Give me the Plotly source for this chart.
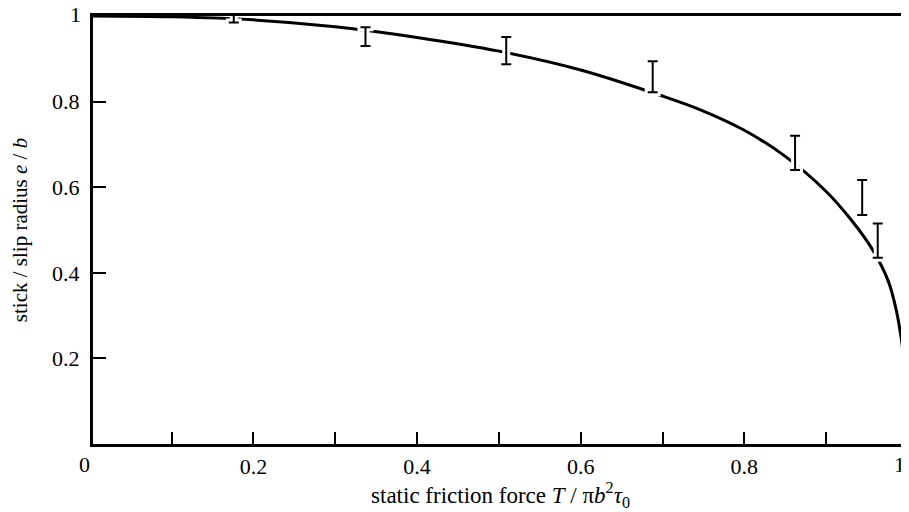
import plotly.graph_objects as go

# curve
curve_x = [0.0, 0.1, 0.2, 0.3, 0.4, 0.5, 0.6, 0.7, 0.75, 0.8, 0.85, 0.9, 0.93,
           0.957, 0.976, 0.986, 0.993, 0.997, 0.999]
curve_y = [1.0, 0.998, 0.991, 0.975, 0.950, 0.918, 0.874, 0.813, 0.778, 0.733, 0.672,
           0.590, 0.525, 0.453, 0.380, 0.310, 0.230, 0.170, 0.125]

# experimental points with error bars
pts_x = [0.176, 0.337, 0.509, 0.688, 0.862, 0.944, 0.963]
pts_y = [0.997, 0.952, 0.919, 0.858, 0.680, 0.576, 0.475]
pts_err = [0.012, 0.022, 0.032, 0.036, 0.040, 0.041, 0.040]

x_tickvals = [0.1, 0.2, 0.3, 0.4, 0.5, 0.6, 0.7, 0.8, 0.9]
x_ticktext = ["", "0.2", "", "0.4", "", "0.6", "", "0.8", ""]
y_tickvals = [0.2, 0.4, 0.6, 0.8]
y_ticktext = ["0.2", "0.4", "0.6", "0.8"]
corner_labels = ["0", "1", "1"]   # x origin, x end, y top

FONT = "Liberation Serif, Times New Roman, serif"

fig = go.Figure()
fig.add_trace(go.Scatter(x=curve_x, y=curve_y, mode="lines",
                         line=dict(color="black", width=3, shape="spline", smoothing=1.0),
                         showlegend=False, hoverinfo="skip"))
fig.add_trace(go.Scatter(x=pts_x, y=pts_y, mode="markers", cliponaxis=False,
                         marker=dict(size=1, opacity=0),
                         error_y=dict(type="data", array=pts_err, visible=True,
                                      color="white", thickness=8, width=8),
                         showlegend=False, hoverinfo="skip"))
fig.add_trace(go.Scatter(x=pts_x, y=pts_y, mode="markers", cliponaxis=False,
                         marker=dict(size=1, opacity=0),
                         error_y=dict(type="data", array=pts_err, visible=True,
                                      color="black", thickness=2, width=5),
                         showlegend=False))

lab_font = dict(family=FONT, size=22, color="black")
fig.add_annotation(text=corner_labels[0], x=0, xref="paper", y=0, yref="paper",
                   xshift=-16, yshift=-20, showarrow=False, font=lab_font, yanchor="middle")
fig.add_annotation(text=corner_labels[1], x=1, xref="paper", y=0, yref="paper",
                   xshift=-1, yshift=-20, showarrow=False, font=lab_font, yanchor="middle")
fig.add_annotation(text=corner_labels[2], x=0, xref="paper", y=1, yref="paper",
                   xshift=-10, yshift=2, showarrow=False, font=lab_font,
                   xanchor="right", yanchor="middle")

fig.update_layout(
    width=901, height=504,
    margin=dict(l=85, r=1, t=8, b=68),
    paper_bgcolor="white", plot_bgcolor="white",
    font=dict(family=FONT, size=22, color="black"),
    xaxis=dict(range=[0.004, 1.0], showgrid=False, zeroline=False,
               showline=True, linecolor="black", linewidth=3, mirror=True,
               ticks="inside", ticklen=12, tickwidth=2, tickcolor="black",
               tickvals=x_tickvals, ticktext=x_ticktext, ticklabelstandoff=1,
               title=dict(text="static friction force <i>T</i> / π<i>b</i><sup>2</sup><i>τ</i><sub>0</sub>",
                          font=dict(family=FONT, size=23), standoff=8)),
    yaxis=dict(range=[0, 1.0], showgrid=False, zeroline=False,
               showline=True, linecolor="black", linewidth=3, mirror=False,
               ticks="inside", ticklen=13, tickwidth=2, tickcolor="black",
               tickvals=y_tickvals, ticktext=y_ticktext, ticklabelstandoff=6,
               title=dict(text="stick / slip radius <i>e</i> / <i>b</i>",
                          font=dict(family=FONT, size=21), standoff=20)),
)

fig.write_html("out.html")
